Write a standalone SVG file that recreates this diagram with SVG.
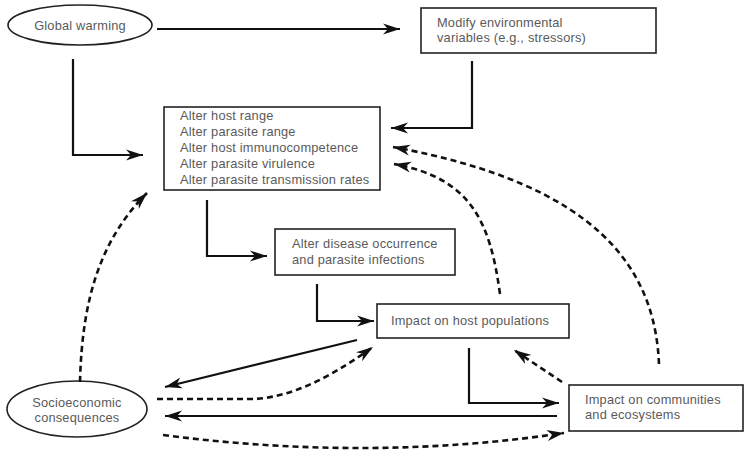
<svg xmlns="http://www.w3.org/2000/svg" width="744" height="454" viewBox="0 0 744 454">
<defs>
<marker id="ah" markerWidth="18" markerHeight="12" refX="17" refY="6" orient="auto" markerUnits="userSpaceOnUse">
<path d="M0,0.5 L17,6 L0,11.5 L5,6 Z" fill="#111"/>
</marker>
<style>
.box{fill:#fff;stroke:#222;stroke-width:1.6}
.t{font-family:"Liberation Sans",Arial,sans-serif;font-size:12.8px;fill:#5a5a5a;letter-spacing:0.2px}
.s{fill:none;stroke:#111;stroke-width:2.2}
.d{fill:none;stroke:#111;stroke-width:2.6;stroke-dasharray:6,4}
</style>
</defs>
<rect width="744" height="454" fill="#fff"/>
<g id="global-warming">
<ellipse class="box" cx="80" cy="25" rx="72" ry="20"/>
<text class="t" x="80" y="30" text-anchor="middle">Global warming</text>
</g>
<g id="modify">
<rect class="box" x="421" y="8" width="235" height="45"/>
<text class="t" x="437" y="27">Modify environmental</text>
<text class="t" x="437" y="42">variables (e.g., stressors)</text>
</g>
<g id="alter">
<rect class="box" x="164" y="107" width="216" height="83"/>
<text class="t" x="180" y="120">Alter host range</text>
<text class="t" x="180" y="136">Alter parasite range</text>
<text class="t" x="180" y="152">Alter host immunocompetence</text>
<text class="t" x="180" y="168">Alter parasite virulence</text>
<text class="t" x="180" y="184">Alter parasite transmission rates</text>
</g>
<g id="disease">
<rect class="box" x="275" y="229" width="180" height="46"/>
<text class="t" x="292" y="248">Alter disease occurrence</text>
<text class="t" x="292" y="264">and parasite infections</text>
</g>
<g id="host">
<rect class="box" x="377" y="304" width="192" height="34"/>
<text class="t" x="470" y="325" text-anchor="middle">Impact on host populations</text>
</g>
<g id="communities">
<rect class="box" x="569" y="385" width="174" height="46"/>
<text class="t" x="585" y="404">Impact on communities</text>
<text class="t" x="585" y="419">and ecosystems</text>
</g>
<g id="socio">
<ellipse class="box" cx="77" cy="409" rx="70" ry="28"/>
<text class="t" x="77" y="407" text-anchor="middle">Socioeconomic</text>
<text class="t" x="77" y="422" text-anchor="middle">consequences</text>
</g>
<g id="connectors">
<path class="s" d="M157,29 L400,29" marker-end="url(#ah)"/>
<path class="s" d="M73,59 V155 H143" marker-end="url(#ah)"/>
<path class="s" d="M472,61 V128 H391" marker-end="url(#ah)"/>
<path class="d" d="M659,364 C655,270 600,185 393,147" marker-end="url(#ah)"/>
<path class="d" d="M500,294 C490,220 470,178 394,164" marker-end="url(#ah)"/>
<path class="d" d="M80,382 C82,300 100,240 147,193" marker-end="url(#ah)"/>
<path class="s" d="M207,200 V256 H267" marker-end="url(#ah)"/>
<path class="s" d="M317,284 V321 H374" marker-end="url(#ah)"/>
<path class="s" d="M357,340 L165,387" marker-end="url(#ah)"/>
<path class="d" d="M157,399 L255,399 C300,396 340,370 373,347" marker-end="url(#ah)"/>
<path class="d" d="M562,382 L514,350" marker-end="url(#ah)"/>
<path class="s" d="M469,348 V403 H559" marker-end="url(#ah)"/>
<path class="s" d="M557,416 H165" marker-end="url(#ah)"/>
<path class="d" d="M163,435 Q370,462 564,433" marker-end="url(#ah)"/>
</g>
</svg>
